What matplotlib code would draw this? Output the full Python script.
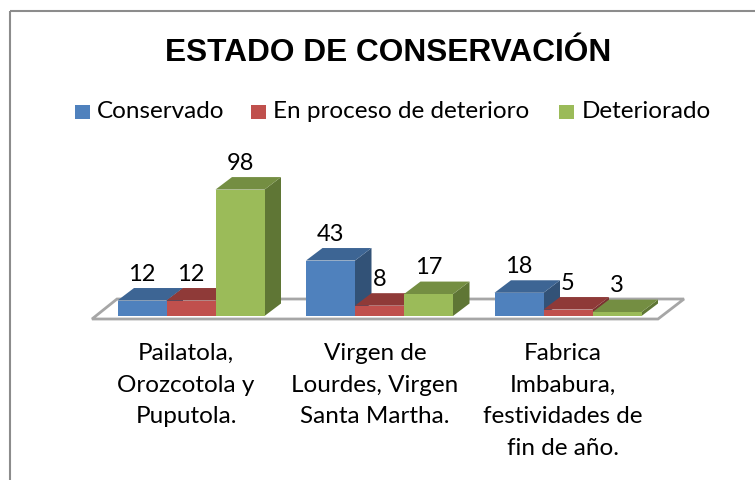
import matplotlib
matplotlib.use("Agg")
import matplotlib.pyplot as plt
from matplotlib.patches import Polygon, Rectangle

categories = [
    "Pailatola,\nOrozcotola y\nPuputola.",
    "Virgen de\nLourdes, Virgen\nSanta Martha.",
    "Fabrica\nImbabura,\nfestividades de\nfin de año.",
]
series_names = ["Conservado", "En proceso de deterioro", "Deteriorado"]
conservado = [12, 43, 18]
en_proceso = [12, 8, 5]
deteriorado = [98, 17, 3]

front_colors = ["#4f81bd", "#c0504d", "#9bbb59"]
top_colors = ["#3d6594", "#8f3a38", "#748e42"]
side_colors = ["#325277", "#7a3230", "#5f7635"]

# geometria en pixeles
base_y = 316
px_por_unidad = 1.29
bar_w = 49
dx, dy = 16.5, 12.5
group_left = [117.5, 306, 494.5]

fig = plt.figure(figsize=(7.55, 4.80), dpi=100)
ax = fig.add_axes([0, 0, 1, 1])
ax.set_xlim(0, 755)
ax.set_ylim(480, 0)
ax.axis("off")

# marco
ax.add_patch(Rectangle((9.5, 11), 760, 480, fill=False, ec="#8c8c8c", lw=1.5))

# piso
floor = [(92, 319), (117, 299), (684, 299), (658, 319)]
ax.add_patch(Polygon(floor, closed=True, fc="white", ec="#a6a6a6", lw=2, zorder=1))

ax.text(388, 53, "ESTADO DE CONSERVACIÓN", family="Liberation Sans", weight="bold",
        fontsize=22.8, ha="center", va="center")

# leyenda
legend_x = [75, 251, 559]
legend_text_x = [97, 273, 582]
for i, name in enumerate(series_names):
    ax.add_patch(Rectangle((legend_x[i], 104.5), 15, 14.5, fc=front_colors[i], ec="none"))
    ax.text(legend_text_x[i], 112, name, family="Lato", fontsize=17.5, ha="left", va="center")

series = [conservado, en_proceso, deteriorado]
z = 2
for g, left in enumerate(group_left):
    for s in range(len(series)):
        v = series[s][g]
        h = v * px_por_unidad
        x0 = left + s * bar_w
        x1 = x0 + bar_w
        top = base_y - h
        ax.add_patch(Polygon([(x1, base_y), (x1 + dx, base_y - dy), (x1 + dx, top - dy), (x1, top)],
                             fc=side_colors[s], ec="none", zorder=z))
        ax.add_patch(Polygon([(x0, top), (x0 + dx, top - dy), (x1 + dx, top - dy), (x1, top)],
                             fc=top_colors[s], ec="none", zorder=z))
        ax.add_patch(Rectangle((x0, top), bar_w, h, fc=front_colors[s], ec="none", zorder=z + 0.5))
        ax.text(x0 + bar_w / 2, top - dy - 14, str(v), family="Lato", fontsize=17,
                ha="center", va="center", zorder=10)
        z += 1

cat_x = [186, 375, 563]
for x, label in zip(cat_x, categories):
    ax.text(x, 343, label, family="Lato", fontsize=17.5, ha="center", va="top", linespacing=1.62)

fig.savefig("out.png", dpi=100)
